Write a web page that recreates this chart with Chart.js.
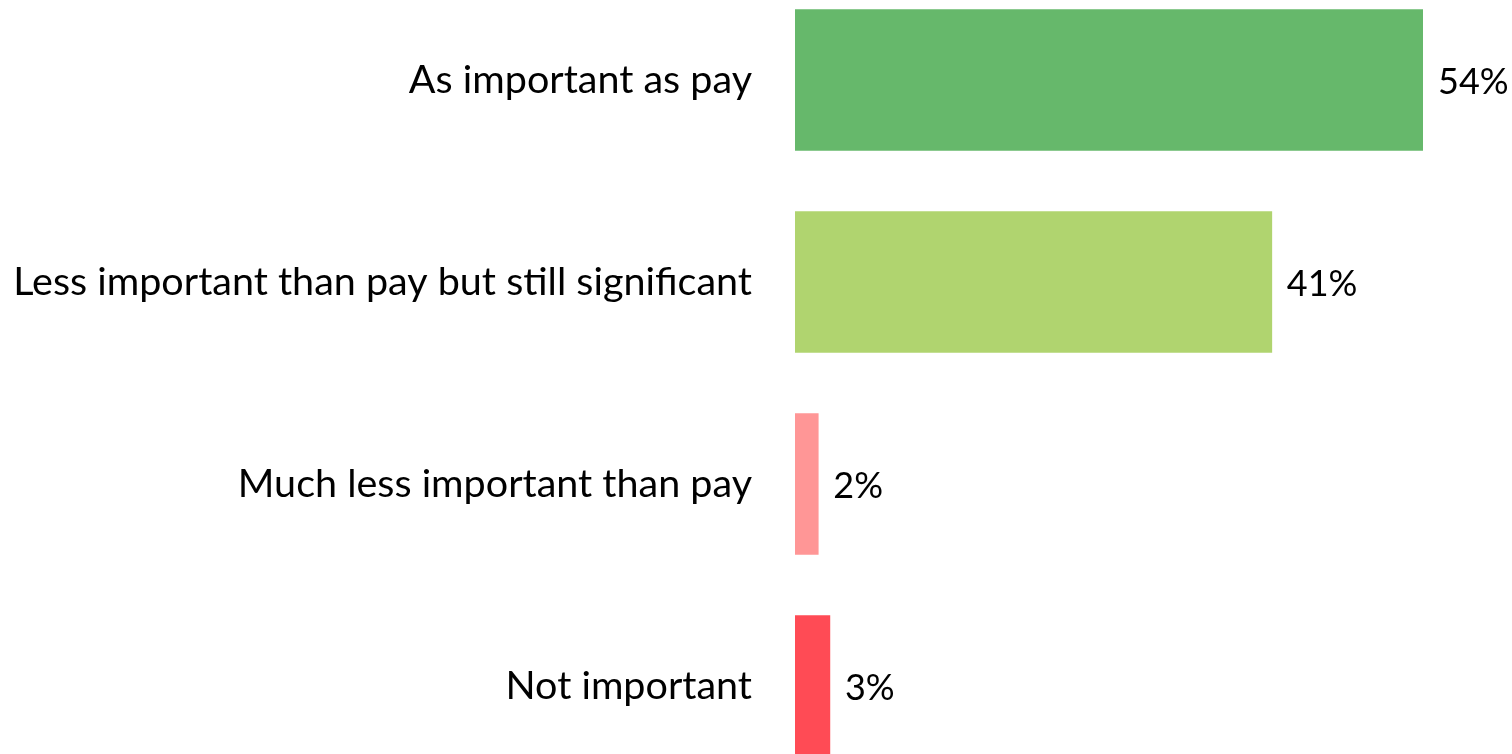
<!DOCTYPE html>
<html>
<head>
<meta charset="utf-8">
<script src="https://cdn.jsdelivr.net/npm/chart.js@4.4.1/dist/chart.umd.min.js"></script>
<style>
  html, body { margin: 0; padding: 0; background: #ffffff; overflow: hidden; }
  body { width: 1512px; height: 754px; position: relative; }
  #wrap { position: absolute; left: 0; top: -21px; width: 1512px; height: 808px; }
</style>
</head>
<body>
<div id="wrap"><canvas id="chart"></canvas></div>
<script>
// Survey answers and their shares (percent)
const categories = [
  'As important as pay',
  'Less important than pay but still significant',
  'Much less important than pay',
  'Not important'
];
const shares = [54, 41, 2, 3];
const barColors = ['#66b86b', '#b0d46f', '#ff9696', '#ff4b55'];

const FONT = 'Lato, "Open Sans", sans-serif';
const LABEL_SIZE = 39.5;
const VALUE_SIZE = 36;

// Writes "NN%" just past the end of each bar
const valueLabels = {
  id: 'valueLabels',
  afterDatasetsDraw(chart) {
    const ctx = chart.ctx;
    const meta = chart.getDatasetMeta(0);
    ctx.save();
    ctx.font = VALUE_SIZE + 'px ' + FONT;
    ctx.fillStyle = '#000000';
    ctx.textAlign = 'left';
    ctx.textBaseline = 'middle';
    meta.data.forEach((bar, i) => {
      ctx.fillText(shares[i] + '%', bar.x + 15, bar.y + 2);
    });
    ctx.restore();
  }
};

new Chart(document.getElementById('chart'), {
  type: 'bar',
  data: {
    labels: categories,
    datasets: [{
      data: shares,
      backgroundColor: barColors,
      borderWidth: 0,
      barThickness: 141
    }]
  },
  options: {
    indexAxis: 'y',
    responsive: true,
    maintainAspectRatio: false,
    animation: false,
    layout: { padding: { left: 0, right: 89, top: 0, bottom: 0 } },
    plugins: {
      legend: { display: false },
      tooltip: { enabled: false }
    },
    scales: {
      x: {
        display: false,
        min: 0,
        max: 54,
        grid: { display: false }
      },
      y: {
        border: { display: false },
        grid: { display: false, drawTicks: false },
        ticks: {
          color: '#000000',
          padding: 43,
          font: { family: FONT, size: LABEL_SIZE }
        },
        afterFit(scale) {
          // fixed label column; bars span the full height
          scale.width = 795;
          scale.paddingTop = 0;
          scale.paddingBottom = 0;
        }
      }
    }
  },
  plugins: [valueLabels]
});
</script>
</body>
</html>
